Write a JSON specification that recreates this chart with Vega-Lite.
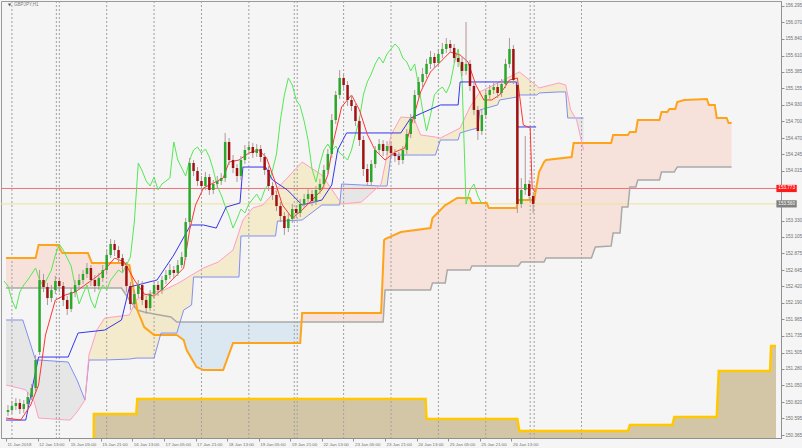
{
"$schema": "https://vega.github.io/schema/vega-lite/v6.json",
"width": 780, "height": 437,
"autosize": {"type": "none"},
"padding": {"left": 1, "top": 1, "right": 21, "bottom": 10},
"background": "#f5f5f5",
"config": {"view": {"stroke": "#9a9a9a", "fill": "#f5f5f5"}, "font": "Liberation Sans"},
"resolve": {"axis": {"x": "independent", "y": "independent"}},
"datasets": {
"one": [{"k": 1}],
"candles": [
{"t":1,"o":150.683,"h":150.780,"l":150.628,"c":150.711},
{"t":3,"o":150.711,"h":150.835,"l":150.656,"c":150.766},
{"t":5,"o":150.766,"h":150.876,"l":150.711,"c":150.808},
{"t":7,"o":150.808,"h":150.863,"l":150.656,"c":150.725},
{"t":9,"o":150.725,"h":150.849,"l":150.670,"c":150.794},
{"t":11,"o":150.794,"h":150.959,"l":150.738,"c":150.890},
{"t":13,"o":150.890,"h":151.070,"l":150.849,"c":151.014},
{"t":15,"o":151.014,"h":151.471,"l":150.959,"c":151.402},
{"t":17,"o":151.512,"h":152.646,"l":151.471,"c":152.508},
{"t":19,"o":152.508,"h":152.591,"l":152.341,"c":152.411},
{"t":21,"o":152.411,"h":152.467,"l":152.162,"c":152.258},
{"t":23,"o":152.258,"h":152.439,"l":152.203,"c":152.369},
{"t":25,"o":152.369,"h":152.563,"l":152.314,"c":152.494},
{"t":27,"o":152.494,"h":152.535,"l":152.341,"c":152.425},
{"t":29,"o":152.425,"h":152.480,"l":152.148,"c":152.231},
{"t":31,"o":152.231,"h":152.286,"l":152.024,"c":152.107},
{"t":33,"o":152.107,"h":152.397,"l":152.065,"c":152.341},
{"t":35,"o":152.341,"h":152.508,"l":152.272,"c":152.439},
{"t":37,"o":152.439,"h":152.591,"l":152.369,"c":152.508},
{"t":39,"o":152.508,"h":152.646,"l":152.453,"c":152.591},
{"t":41,"o":152.591,"h":152.743,"l":152.535,"c":152.674},
{"t":43,"o":152.674,"h":152.715,"l":152.425,"c":152.508},
{"t":45,"o":152.508,"h":152.577,"l":152.341,"c":152.425},
{"t":47,"o":152.425,"h":152.605,"l":152.369,"c":152.535},
{"t":49,"o":152.535,"h":152.715,"l":152.480,"c":152.646},
{"t":51,"o":152.646,"h":152.922,"l":152.591,"c":152.853},
{"t":53,"o":152.853,"h":153.074,"l":152.811,"c":153.005},
{"t":55,"o":153.005,"h":153.060,"l":152.839,"c":152.922},
{"t":57,"o":152.922,"h":152.977,"l":152.743,"c":152.811},
{"t":59,"o":152.811,"h":152.867,"l":152.618,"c":152.701},
{"t":61,"o":152.701,"h":152.756,"l":152.341,"c":152.425},
{"t":63,"o":152.425,"h":152.480,"l":152.093,"c":152.176},
{"t":65,"o":152.176,"h":152.369,"l":152.120,"c":152.314},
{"t":67,"o":152.314,"h":152.508,"l":152.258,"c":152.439},
{"t":69,"o":152.439,"h":152.494,"l":152.162,"c":152.231},
{"t":71,"o":152.231,"h":152.286,"l":152.038,"c":152.120},
{"t":73,"o":152.120,"h":152.369,"l":152.079,"c":152.314},
{"t":75,"o":152.314,"h":152.508,"l":152.258,"c":152.439},
{"t":77,"o":152.439,"h":152.494,"l":152.286,"c":152.369},
{"t":79,"o":152.369,"h":152.563,"l":152.314,"c":152.508},
{"t":81,"o":152.508,"h":152.646,"l":152.453,"c":152.577},
{"t":83,"o":152.577,"h":152.729,"l":152.522,"c":152.646},
{"t":85,"o":152.646,"h":152.701,"l":152.535,"c":152.605},
{"t":87,"o":152.605,"h":152.784,"l":152.563,"c":152.715},
{"t":89,"o":152.715,"h":152.894,"l":152.674,"c":152.825},
{"t":91,"o":152.825,"h":153.364,"l":152.784,"c":153.309},
{"t":93,"o":153.309,"h":154.194,"l":153.254,"c":154.125},
{"t":95,"o":154.125,"h":154.166,"l":153.945,"c":154.014},
{"t":97,"o":154.014,"h":154.069,"l":153.807,"c":153.876},
{"t":99,"o":153.876,"h":153.945,"l":153.724,"c":153.807},
{"t":101,"o":153.807,"h":154.000,"l":153.752,"c":153.931},
{"t":103,"o":153.931,"h":153.973,"l":153.683,"c":153.752},
{"t":105,"o":153.752,"h":153.890,"l":153.696,"c":153.835},
{"t":107,"o":153.835,"h":153.945,"l":153.779,"c":153.876},
{"t":109,"o":153.876,"h":153.986,"l":153.821,"c":153.917},
{"t":111,"o":153.917,"h":154.540,"l":153.862,"c":154.415},
{"t":113,"o":154.415,"h":154.470,"l":154.097,"c":154.166},
{"t":115,"o":154.166,"h":154.235,"l":153.986,"c":154.056},
{"t":117,"o":154.056,"h":154.111,"l":153.862,"c":153.945},
{"t":119,"o":153.945,"h":154.221,"l":153.890,"c":154.166},
{"t":121,"o":154.166,"h":154.374,"l":154.111,"c":154.305},
{"t":123,"o":154.305,"h":154.415,"l":154.263,"c":154.346},
{"t":125,"o":154.346,"h":154.401,"l":154.194,"c":154.263},
{"t":127,"o":154.263,"h":154.387,"l":154.208,"c":154.318},
{"t":129,"o":154.318,"h":154.374,"l":154.138,"c":154.208},
{"t":131,"o":154.208,"h":154.263,"l":153.959,"c":154.028},
{"t":133,"o":154.028,"h":154.083,"l":153.738,"c":153.807},
{"t":135,"o":153.807,"h":153.862,"l":153.613,"c":153.683},
{"t":137,"o":153.683,"h":153.738,"l":153.461,"c":153.530},
{"t":139,"o":153.530,"h":153.585,"l":153.309,"c":153.392},
{"t":141,"o":153.392,"h":153.447,"l":153.129,"c":153.226},
{"t":143,"o":153.226,"h":153.420,"l":153.171,"c":153.351},
{"t":145,"o":153.351,"h":153.558,"l":153.295,"c":153.489},
{"t":147,"o":153.489,"h":153.544,"l":153.364,"c":153.434},
{"t":149,"o":153.434,"h":153.627,"l":153.378,"c":153.558},
{"t":151,"o":153.558,"h":153.696,"l":153.503,"c":153.627},
{"t":153,"o":153.627,"h":153.765,"l":153.572,"c":153.696},
{"t":155,"o":153.696,"h":153.752,"l":153.530,"c":153.599},
{"t":157,"o":153.599,"h":153.807,"l":153.544,"c":153.752},
{"t":159,"o":153.752,"h":153.904,"l":153.696,"c":153.835},
{"t":161,"o":153.835,"h":154.097,"l":153.779,"c":154.028},
{"t":163,"o":154.028,"h":154.318,"l":153.973,"c":154.249},
{"t":165,"o":154.249,"h":154.802,"l":154.194,"c":154.719},
{"t":167,"o":154.719,"h":155.120,"l":154.664,"c":155.065},
{"t":169,"o":155.065,"h":155.410,"l":155.010,"c":155.300},
{"t":171,"o":155.300,"h":155.369,"l":155.134,"c":155.203},
{"t":173,"o":155.203,"h":155.258,"l":154.913,"c":154.996},
{"t":175,"o":154.996,"h":155.065,"l":154.843,"c":154.913},
{"t":177,"o":154.913,"h":154.968,"l":154.636,"c":154.705},
{"t":179,"o":154.705,"h":154.760,"l":154.360,"c":154.443},
{"t":181,"o":154.443,"h":154.498,"l":153.945,"c":154.042},
{"t":183,"o":154.042,"h":154.111,"l":153.807,"c":153.862},
{"t":185,"o":153.862,"h":154.166,"l":153.807,"c":154.111},
{"t":187,"o":154.111,"h":154.360,"l":154.056,"c":154.305},
{"t":189,"o":154.305,"h":154.456,"l":154.249,"c":154.387},
{"t":191,"o":154.387,"h":154.443,"l":154.221,"c":154.291},
{"t":193,"o":154.291,"h":154.429,"l":154.235,"c":154.360},
{"t":195,"o":154.360,"h":154.415,"l":154.194,"c":154.263},
{"t":197,"o":154.263,"h":154.318,"l":154.138,"c":154.221},
{"t":199,"o":154.221,"h":154.277,"l":154.097,"c":154.166},
{"t":201,"o":154.166,"h":154.360,"l":154.111,"c":154.305},
{"t":203,"o":154.305,"h":154.595,"l":154.249,"c":154.526},
{"t":205,"o":154.526,"h":154.802,"l":154.470,"c":154.733},
{"t":207,"o":154.733,"h":155.134,"l":154.677,"c":155.065},
{"t":209,"o":155.065,"h":155.314,"l":155.010,"c":155.245},
{"t":211,"o":155.245,"h":155.438,"l":155.175,"c":155.355},
{"t":213,"o":155.355,"h":155.563,"l":155.300,"c":155.494},
{"t":215,"o":155.494,"h":155.673,"l":155.424,"c":155.590},
{"t":217,"o":155.590,"h":155.645,"l":155.438,"c":155.507},
{"t":219,"o":155.507,"h":155.701,"l":155.452,"c":155.632},
{"t":221,"o":155.632,"h":155.784,"l":155.576,"c":155.701},
{"t":223,"o":155.701,"h":155.853,"l":155.645,"c":155.770},
{"t":225,"o":155.770,"h":155.825,"l":155.645,"c":155.715},
{"t":227,"o":155.715,"h":155.770,"l":155.507,"c":155.576},
{"t":229,"o":155.576,"h":155.645,"l":155.452,"c":155.521},
{"t":231,"o":155.521,"h":155.590,"l":155.328,"c":155.397},
{"t":233,"o":155.397,"h":156.074,"l":155.342,"c":155.494},
{"t":235,"o":155.494,"h":155.549,"l":155.120,"c":155.189},
{"t":237,"o":155.189,"h":155.245,"l":154.788,"c":154.858},
{"t":239,"o":154.858,"h":154.913,"l":154.443,"c":154.567},
{"t":241,"o":154.567,"h":154.858,"l":154.512,"c":154.788},
{"t":243,"o":154.788,"h":155.134,"l":154.733,"c":155.065},
{"t":245,"o":155.065,"h":155.203,"l":155.010,"c":155.134},
{"t":247,"o":155.134,"h":155.245,"l":155.079,"c":155.175},
{"t":249,"o":155.175,"h":155.231,"l":155.024,"c":155.093},
{"t":251,"o":155.093,"h":155.286,"l":155.038,"c":155.217},
{"t":253,"o":155.217,"h":155.563,"l":155.162,"c":155.494},
{"t":255,"o":155.494,"h":155.853,"l":155.438,"c":155.701},
{"t":257,"o":155.701,"h":155.756,"l":155.217,"c":155.272},
{"t":259,"o":155.203,"h":155.272,"l":153.434,"c":153.558},
{"t":261,"o":153.558,"h":153.917,"l":153.503,"c":153.752},
{"t":263,"o":153.752,"h":154.498,"l":153.683,"c":153.835},
{"t":265,"o":153.835,"h":153.890,"l":153.613,"c":153.669},
{"t":267,"o":153.669,"h":153.724,"l":153.434,"c":153.560}
],
"chikou": [
{"t":-1,"v":152.494},{"t":1,"v":152.425},{"t":3,"v":152.231},{"t":5,"v":152.107},{"t":7,"v":152.341},{"t":9,"v":152.439},{"t":11,"v":152.508},{"t":13,"v":152.591},{"t":15,"v":152.674},{"t":17,"v":152.508},{"t":19,"v":152.425},{"t":21,"v":152.535},{"t":23,"v":152.646},{"t":25,"v":152.853},{"t":27,"v":153.005},{"t":29,"v":152.922},{"t":31,"v":152.811},{"t":33,"v":152.701},{"t":35,"v":152.425},{"t":37,"v":152.176},{"t":39,"v":152.314},{"t":41,"v":152.439},{"t":43,"v":152.231},{"t":45,"v":152.120},{"t":47,"v":152.314},{"t":49,"v":152.439},{"t":51,"v":152.369},{"t":53,"v":152.508},{"t":55,"v":152.577},{"t":57,"v":152.646},{"t":59,"v":152.605},{"t":61,"v":152.715},{"t":63,"v":152.825},{"t":65,"v":153.309},{"t":67,"v":154.125},{"t":69,"v":154.014},{"t":71,"v":153.876},{"t":73,"v":153.807},{"t":75,"v":153.931},{"t":77,"v":153.752},{"t":79,"v":153.835},{"t":81,"v":153.876},{"t":83,"v":153.917},{"t":85,"v":154.415},{"t":87,"v":154.166},{"t":89,"v":154.056},{"t":91,"v":153.945},{"t":93,"v":154.166},{"t":95,"v":154.305},{"t":97,"v":154.346},{"t":99,"v":154.263},{"t":101,"v":154.318},{"t":103,"v":154.208},{"t":105,"v":154.028},{"t":107,"v":153.807},{"t":109,"v":153.683},{"t":111,"v":153.530},{"t":113,"v":153.392},{"t":115,"v":153.226},{"t":117,"v":153.351},{"t":119,"v":153.489},{"t":121,"v":153.434},{"t":123,"v":153.558},{"t":125,"v":153.627},{"t":127,"v":153.696},{"t":129,"v":153.599},{"t":131,"v":153.752},{"t":133,"v":153.835},{"t":135,"v":154.028},{"t":137,"v":154.249},{"t":139,"v":154.719},{"t":141,"v":155.065},{"t":143,"v":155.300},{"t":145,"v":155.203},{"t":147,"v":154.996},{"t":149,"v":154.913},{"t":151,"v":154.705},{"t":153,"v":154.443},{"t":155,"v":154.042},{"t":157,"v":153.862},{"t":159,"v":154.111},{"t":161,"v":154.305},{"t":163,"v":154.387},{"t":165,"v":154.291},{"t":167,"v":154.360},{"t":169,"v":154.263},{"t":171,"v":154.221},{"t":173,"v":154.166},{"t":175,"v":154.305},{"t":177,"v":154.526},{"t":179,"v":154.733},{"t":181,"v":155.065},{"t":183,"v":155.245},{"t":185,"v":155.355},{"t":187,"v":155.494},{"t":189,"v":155.590},{"t":191,"v":155.507},{"t":193,"v":155.632},{"t":195,"v":155.701},{"t":197,"v":155.770},{"t":199,"v":155.715},{"t":201,"v":155.576},{"t":203,"v":155.521},{"t":205,"v":155.397},{"t":207,"v":155.494},{"t":209,"v":155.189},{"t":211,"v":154.858},{"t":213,"v":154.567},{"t":215,"v":154.788},{"t":217,"v":155.065},{"t":219,"v":155.134},{"t":221,"v":155.175},{"t":223,"v":155.093},{"t":225,"v":155.217},{"t":227,"v":155.494},{"t":229,"v":155.701},{"t":231,"v":155.272},{"t":233,"v":153.558},{"t":235,"v":153.752},{"t":237,"v":153.835},{"t":239,"v":153.669},{"t":241,"v":153.560}
],
"tenkan": [
{"t":0,"v":150.600},{"t":7.5,"v":150.572},{"t":12.5,"v":150.780},{"t":16.5,"v":151.056},{"t":20,"v":151.747},{"t":25,"v":152.231},{"t":30,"v":152.300},{"t":35,"v":152.341},{"t":40,"v":152.439},{"t":45,"v":152.535},{"t":50,"v":152.646},{"t":55,"v":152.811},{"t":60,"v":152.756},{"t":65,"v":152.508},{"t":70,"v":152.314},{"t":75,"v":152.286},{"t":80,"v":152.397},{"t":85,"v":152.535},{"t":90,"v":152.674},{"t":93,"v":153.199},{"t":96,"v":153.544},{"t":100,"v":153.779},{"t":105,"v":153.848},{"t":110,"v":153.917},{"t":113,"v":154.138},{"t":118,"v":154.166},{"t":123,"v":154.263},{"t":128,"v":154.305},{"t":132,"v":154.194},{"t":136,"v":153.890},{"t":140,"v":153.544},{"t":145,"v":153.364},{"t":150,"v":153.475},{"t":155,"v":153.613},{"t":160,"v":153.752},{"t":163,"v":153.959},{"t":166,"v":154.443},{"t":170,"v":154.900},{"t":175,"v":155.065},{"t":179,"v":154.860},{"t":183,"v":154.520},{"t":187,"v":154.300},{"t":192,"v":154.166},{"t":197,"v":154.277},{"t":202,"v":154.332},{"t":206,"v":154.719},{"t":210,"v":155.107},{"t":215,"v":155.383},{"t":220,"v":155.521},{"t":225,"v":155.659},{"t":230,"v":155.618},{"t":234,"v":155.521},{"t":238,"v":155.203},{"t":242,"v":154.996},{"t":246,"v":154.996},{"t":250,"v":155.065},{"t":255,"v":155.272},{"t":259,"v":155.300},{"t":262,"v":154.650},{"t":265.5,"v":154.609},{"t":266.5,"v":153.779},{"t":268,"v":153.724}
],
"kijun": [
{"t":0,"v":150.572},{"t":10,"v":150.572},{"t":16.5,"v":151.443},{"t":31.5,"v":151.443},{"t":36.5,"v":151.775},{"t":50,"v":151.816},{"t":58.5,"v":151.955},{"t":62.5,"v":152.411},{"t":76.5,"v":152.508},{"t":85,"v":152.853},{"t":93.5,"v":153.268},{"t":100,"v":153.268},{"t":106.5,"v":153.226},{"t":111.5,"v":153.516},{"t":118.5,"v":153.572},{"t":120,"v":154.069},{"t":131.5,"v":154.069},{"t":135,"v":153.890},{"t":142.5,"v":153.752},{"t":150,"v":153.544},{"t":160,"v":153.613},{"t":165,"v":153.821},{"t":168,"v":154.305},{"t":172.5,"v":154.540},{"t":200,"v":154.540},{"t":205,"v":154.747},{"t":220,"v":154.927},{"t":229,"v":154.927},{"t":230,"v":155.245},{"t":258.5,"v":155.245},{"t":259,"v":154.623},{"t":268.5,"v":154.623}
],
"sc": [
{"t":0,"a":151.056,"b":151.955,"g":"S1"},{"t":8.5,"a":151.001,"b":151.955,"g":"S1"},{"t":10,"a":150.987,"b":151.830,"g":"S1"},{"t":14,"a":150.849,"b":151.485,"g":"S1"},{"t":15,"a":150.752,"b":151.402,"g":"S1"},{"t":16.5,"a":150.600,"b":151.402,"g":"S1"},{"t":31.5,"a":150.572,"b":151.374,"g":"S1"},{"t":32.5,"a":150.572,"b":151.319,"g":"S1"},{"t":36,"a":150.683,"b":151.125,"g":"S1"},{"t":40,"a":150.849,"b":150.849,"g":"S1"},
{"t":40,"a":150.849,"b":150.849,"g":"S2"},{"t":42,"a":151.471,"b":151.402,"g":"S2"},{"t":46,"a":151.816,"b":151.402,"g":"S2"},{"t":50,"a":151.982,"b":151.402,"g":"S2"},{"t":62.5,"a":152.024,"b":151.415,"g":"S2"},{"t":66,"a":152.231,"b":151.429,"g":"S2"},{"t":70,"a":152.300,"b":151.429,"g":"S2"},{"t":75,"a":152.341,"b":151.429,"g":"S2"},{"t":78.5,"a":152.355,"b":151.775,"g":"S2"},{"t":80,"a":152.369,"b":151.775,"g":"S2"},{"t":86.5,"a":152.453,"b":151.775,"g":"S2"},{"t":90,"a":152.508,"b":152.093,"g":"S2"},{"t":94,"a":152.577,"b":152.162,"g":"S2"},{"t":95,"a":152.591,"b":152.549,"g":"S2"},{"t":100,"a":152.674,"b":152.549,"g":"S2"},{"t":107.5,"a":152.756,"b":152.549,"g":"S2"},{"t":115,"a":152.922,"b":152.549,"g":"S2"},{"t":118,"a":153.171,"b":152.549,"g":"S2"},{"t":119,"a":153.254,"b":153.116,"g":"S2"},{"t":120,"a":153.337,"b":153.116,"g":"S2"},{"t":125,"a":153.503,"b":153.116,"g":"S2"},{"t":130,"a":153.544,"b":153.116,"g":"S2"},{"t":136.5,"a":153.738,"b":153.116,"g":"S2"},{"t":137.5,"a":153.779,"b":153.323,"g":"S2"},{"t":140,"a":153.848,"b":153.323,"g":"S2"},{"t":150,"a":154.138,"b":153.337,"g":"S2"},{"t":160,"a":153.959,"b":153.544,"g":"S2"},{"t":169,"a":153.599,"b":153.544,"g":"S2"},{"t":169.15,"a":153.589,"b":153.589,"g":"S2"},
{"t":169.15,"a":153.589,"b":153.589,"g":"S3"},{"t":170,"a":153.558,"b":153.835,"g":"S3"},{"t":180,"a":153.585,"b":153.821,"g":"S3"},{"t":189,"a":153.807,"b":153.807,"g":"S3"},
{"t":189,"a":153.807,"b":153.807,"g":"S4"},{"t":190,"a":153.835,"b":153.807,"g":"S4"},{"t":193,"a":154.235,"b":153.807,"g":"S4"},{"t":195,"a":154.512,"b":154.235,"g":"S4"},{"t":200,"a":154.760,"b":154.235,"g":"S4"},{"t":206.5,"a":154.747,"b":154.235,"g":"S4"},{"t":210,"a":154.512,"b":154.235,"g":"S4"},{"t":217.5,"a":154.484,"b":154.235,"g":"S4"},{"t":220,"a":154.470,"b":154.443,"g":"S4"},{"t":229,"a":154.594,"b":154.443,"g":"S4"},{"t":230,"a":154.608,"b":154.540,"g":"S4"},{"t":235,"a":154.899,"b":154.581,"g":"S4"},{"t":239,"a":155.065,"b":154.608,"g":"S4"},{"t":240,"a":155.107,"b":154.858,"g":"S4"},{"t":249,"a":155.231,"b":154.927,"g":"S4"},{"t":250,"a":155.245,"b":154.996,"g":"S4"},{"t":259,"a":155.369,"b":155.038,"g":"S4"},{"t":260,"a":155.383,"b":155.065,"g":"S4"},{"t":269,"a":155.189,"b":155.065,"g":"S4"},{"t":270,"a":155.162,"b":155.093,"g":"S4"},{"t":280,"a":155.231,"b":155.107,"g":"S4"},{"t":283.5,"a":155.203,"b":155.107,"g":"S4"},{"t":284.5,"a":155.065,"b":154.747,"g":"S4"},{"t":286,"a":154.858,"b":154.747,"g":"S4"},{"t":288.4,"a":154.747,"b":154.747,"g":"S4"},
{"t":288.4,"a":154.747,"b":154.747,"g":"S5"},{"t":289,"a":154.719,"b":154.747,"g":"S5"},{"t":292.5,"a":154.305,"b":154.747,"g":"S5"}
],
"lc": [
{"t":0,"a":152.811,"b":152.397,"g":"L1"},{"t":15,"a":152.811,"b":152.397,"g":"L1"},{"t":16.5,"a":152.991,"b":152.397,"g":"L1"},{"t":26.5,"a":152.991,"b":152.397,"g":"L1"},{"t":28.5,"a":152.880,"b":152.397,"g":"L1"},{"t":41.5,"a":152.880,"b":152.397,"g":"L1"},{"t":43.5,"a":152.743,"b":152.397,"g":"L1"},{"t":58.5,"a":152.743,"b":152.397,"g":"L1"},{"t":62.5,"a":152.715,"b":152.231,"g":"L1"},{"t":66.5,"a":152.093,"b":152.093,"g":"L1"},
{"t":66.5,"a":152.093,"b":152.093,"g":"L2"},{"t":70,"a":151.858,"b":152.065,"g":"L2"},{"t":75,"a":151.747,"b":152.038,"g":"L2"},{"t":83.5,"a":151.747,"b":151.996,"g":"L2"},{"t":86.5,"a":151.747,"b":151.927,"g":"L2"},{"t":90,"a":151.678,"b":151.927,"g":"L2"},{"t":91.5,"a":151.540,"b":151.927,"g":"L2"},{"t":96.5,"a":151.305,"b":151.927,"g":"L2"},{"t":100,"a":151.263,"b":151.927,"g":"L2"},{"t":110,"a":151.263,"b":151.927,"g":"L2"},{"t":115,"a":151.637,"b":151.927,"g":"L2"},{"t":149,"a":151.637,"b":151.927,"g":"L2"},{"t":149.7,"a":151.927,"b":151.927,"g":"L2"},
{"t":149.7,"a":151.927,"b":151.927,"g":"L3"},{"t":150,"a":152.052,"b":151.927,"g":"L3"},{"t":190,"a":152.052,"b":151.927,"g":"L3"},{"t":191,"a":152.715,"b":151.927,"g":"L3"},{"t":191.5,"a":153.060,"b":152.148,"g":"L3"},{"t":192,"a":153.074,"b":152.369,"g":"L3"},{"t":200,"a":153.171,"b":152.369,"g":"L3"},{"t":215,"a":153.226,"b":152.369,"g":"L3"},{"t":216,"a":153.364,"b":152.467,"g":"L3"},{"t":222.5,"a":153.544,"b":152.467,"g":"L3"},{"t":223.5,"a":153.558,"b":152.646,"g":"L3"},{"t":228.5,"a":153.641,"b":152.646,"g":"L3"},{"t":235,"a":153.641,"b":152.646,"g":"L3"},{"t":236,"a":153.572,"b":152.701,"g":"L3"},{"t":243.5,"a":153.572,"b":152.701,"g":"L3"},{"t":244.5,"a":153.503,"b":152.701,"g":"L3"},{"t":258.5,"a":153.503,"b":152.701,"g":"L3"},{"t":259.5,"a":153.613,"b":152.701,"g":"L3"},{"t":261,"a":153.613,"b":152.756,"g":"L3"},{"t":267.5,"a":153.613,"b":152.756,"g":"L3"},{"t":270,"a":154.000,"b":152.756,"g":"L3"},{"t":272.5,"a":154.138,"b":152.756,"g":"L3"},{"t":273.5,"a":154.166,"b":152.811,"g":"L3"},{"t":286.5,"a":154.208,"b":152.811,"g":"L3"},{"t":287.5,"a":154.401,"b":152.811,"g":"L3"},{"t":296.5,"a":154.401,"b":152.811,"g":"L3"},{"t":298.5,"a":154.401,"b":152.963,"g":"L3"},{"t":306.5,"a":154.401,"b":152.977,"g":"L3"},{"t":307.5,"a":154.512,"b":153.157,"g":"L3"},{"t":311,"a":154.512,"b":153.157,"g":"L3"},{"t":312,"a":154.512,"b":153.516,"g":"L3"},{"t":315,"a":154.512,"b":153.516,"g":"L3"},{"t":316,"a":154.553,"b":153.793,"g":"L3"},{"t":319,"a":154.553,"b":153.793,"g":"L3"},{"t":320,"a":154.719,"b":153.890,"g":"L3"},{"t":331,"a":154.719,"b":153.890,"g":"L3"},{"t":332,"a":154.830,"b":154.000,"g":"L3"},{"t":335,"a":154.830,"b":154.000,"g":"L3"},{"t":336,"a":154.871,"b":154.000,"g":"L3"},{"t":338.5,"a":154.871,"b":154.000,"g":"L3"},{"t":339,"a":154.871,"b":154.028,"g":"L3"},{"t":340,"a":154.968,"b":154.069,"g":"L3"},{"t":343.5,"a":154.996,"b":154.069,"g":"L3"},{"t":355,"a":155.010,"b":154.069,"g":"L3"},{"t":356,"a":154.927,"b":154.069,"g":"L3"},{"t":359,"a":154.927,"b":154.069,"g":"L3"},{"t":360,"a":154.747,"b":154.069,"g":"L3"},{"t":365,"a":154.747,"b":154.069,"g":"L3"},{"t":366,"a":154.677,"b":154.069,"g":"L3"},{"t":367.5,"a":154.677,"b":154.069,"g":"L3"}
],
"bot": [
{"t":44.45,"v":150.20},{"t":44.5,"v":150.656},{"t":66,"v":150.656},{"t":66.5,"v":150.863},{"t":212.5,"v":150.863},{"t":213,"v":150.586},{"t":259,"v":150.586},{"t":260,"v":150.420},{"t":315,"v":150.420},{"t":316,"v":150.503},{"t":337.5,"v":150.503},{"t":338.5,"v":150.614},{"t":360,"v":150.614},{"t":361,"v":151.250},{"t":387,"v":151.250},{"t":387.5,"v":151.595},{"t":390,"v":151.595}
],
"sep": [
{"t":3},{"t":25.5},{"t":27},{"t":51},{"t":75},{"t":99},{"t":123},{"t":146},{"t":147.5},{"t":171},{"t":195},{"t":219},{"t":243},{"t":265.5},{"t":267.5},{"t":291.5}
]
},
"layer": [
{"data": {"name": "lc"}, "mark": {"type": "area", "clip": true},
 "encoding": {
  "x": {"field": "t", "type": "quantitative", "scale": {"domain": [0, 390], "nice": false, "zero": false},
        "axis": {"orient": "bottom", "values": [0,16,32,48,64,80,96,112,128,144,160,176,192,208,224,240,256], "labelExpr": "datum.value < 8 ? '11 Jan 2018' : datum.value < 24 ? '12 Jan 13:00' : datum.value < 40 ? '15 Jan 05:00' : datum.value < 56 ? '15 Jan 21:00' : datum.value < 72 ? '16 Jan 13:00' : datum.value < 88 ? '17 Jan 05:00' : datum.value < 104 ? '17 Jan 21:00' : datum.value < 120 ? '18 Jan 13:00' : datum.value < 136 ? '19 Jan 05:00' : datum.value < 152 ? '19 Jan 21:00' : datum.value < 168 ? '22 Jan 13:00' : datum.value < 184 ? '23 Jan 05:00' : datum.value < 200 ? '23 Jan 21:00' : datum.value < 216 ? '24 Jan 13:00' : datum.value < 232 ? '25 Jan 05:00' : datum.value < 248 ? '25 Jan 21:00' : '26 Jan 13:00'", "labelAlign": "left", "labelBaseline": "top", "labelPadding": 1, "labelOffset": 1, "labelFont": "Liberation Sans", "labelFontSize": 4.4, "labelColor": "#707070", "tickSize": 3, "tickColor": "#909090", "domainColor": "#909090", "grid": false, "title": null, "labelOverlap": false, "labelFlush": false, "labelBound": false}},
  "y": {"field": "a", "type": "quantitative", "scale": {"domain": [150.324, 156.364], "nice": false, "zero": false},
        "axis": {"orient": "right", "values": [150.365,150.595,150.82,151.05,151.28,151.505,151.735,151.965,152.19,152.42,152.645,152.875,153.105,153.33,154.015,154.245,154.47,154.7,154.93,155.155,155.385,155.61,155.84,156.07,156.295], "format": ".3f", "labelFont": "Liberation Sans", "labelFontSize": 4.6, "labelColor": "#707070", "tickSize": 3, "tickColor": "#909090", "domainColor": "#909090", "grid": false, "title": null, "labelPadding": 1, "labelOverlap": false, "labelBound": false, "labelFlush": false}},
  "y2": {"field": "b"},
  "detail": {"field": "g"},
  "color": {"condition": {"test": "datum.g === 'L2'", "value": "#dce8f1"}, "value": "#f6e2da"}
 }},
{"data": {"name": "sc"}, "mark": {"type": "area", "clip": true, "opacity": 0.9},
 "encoding": {
  "x": {"field": "t", "type": "quantitative", "scale": {"domain": [0, 390], "nice": false, "zero": false}, "axis": null},
  "y": {"field": "a", "type": "quantitative", "scale": {"domain": [150.324, 156.364], "nice": false, "zero": false}, "axis": null},
  "y2": {"field": "b"},
  "detail": {"field": "g"},
  "color": {"condition": {"test": "datum.g === 'S2' || datum.g === 'S4'", "value": "#f4e9c8"}, "value": "#e4e4e4"}
 }},
{"data": {"name": "bot"}, "mark": {"type": "area", "clip": true, "color": "#d3c6a6"},
 "encoding": {
  "x": {"field": "t", "type": "quantitative", "scale": {"domain": [0, 390], "nice": false, "zero": false}, "axis": null},
  "y": {"field": "v", "type": "quantitative", "scale": {"domain": [150.324, 156.364], "nice": false, "zero": false}, "axis": null},
  "y2": {"datum": 150.0}
 }},
{"data": {"name": "sep"}, "mark": {"type": "rule", "color": "#a0a0a0", "strokeDash": [2, 2], "strokeWidth": 1},
 "encoding": {
  "x": {"field": "t", "type": "quantitative", "scale": {"domain": [0, 390], "nice": false, "zero": false}, "axis": null}
 }},
{"data": {"name": "one"}, "mark": {"type": "rule", "color": "#ee7070", "strokeWidth": 1},
 "encoding": {"y": {"datum": 153.773, "type": "quantitative", "scale": {"domain": [150.324, 156.364], "nice": false, "zero": false}, "axis": null}}},
{"data": {"name": "one"}, "mark": {"type": "rule", "color": "#efe29a", "strokeWidth": 1},
 "encoding": {"y": {"datum": 153.56, "type": "quantitative", "scale": {"domain": [150.324, 156.364], "nice": false, "zero": false}, "axis": null}}},
{"data": {"name": "lc"}, "mark": {"type": "line", "clip": true, "color": "#a9a9a9", "strokeWidth": 1.5},
 "encoding": {
  "x": {"field": "t", "type": "quantitative", "scale": {"domain": [0, 390], "nice": false, "zero": false}, "axis": null},
  "y": {"field": "b", "type": "quantitative", "scale": {"domain": [150.324, 156.364], "nice": false, "zero": false}, "axis": null}
 }},
{"data": {"name": "lc"}, "mark": {"type": "line", "clip": true, "color": "#ffa31a", "strokeWidth": 2},
 "encoding": {
  "x": {"field": "t", "type": "quantitative", "scale": {"domain": [0, 390], "nice": false, "zero": false}, "axis": null},
  "y": {"field": "a", "type": "quantitative", "scale": {"domain": [150.324, 156.364], "nice": false, "zero": false}, "axis": null}
 }},
{"data": {"name": "sc"}, "mark": {"type": "line", "clip": true, "color": "#8190ee", "strokeWidth": 1},
 "encoding": {
  "x": {"field": "t", "type": "quantitative", "scale": {"domain": [0, 390], "nice": false, "zero": false}, "axis": null},
  "y": {"field": "b", "type": "quantitative", "scale": {"domain": [150.324, 156.364], "nice": false, "zero": false}, "axis": null}
 }},
{"data": {"name": "sc"}, "mark": {"type": "line", "clip": true, "color": "#ff9fc6", "strokeWidth": 1},
 "encoding": {
  "x": {"field": "t", "type": "quantitative", "scale": {"domain": [0, 390], "nice": false, "zero": false}, "axis": null},
  "y": {"field": "a", "type": "quantitative", "scale": {"domain": [150.324, 156.364], "nice": false, "zero": false}, "axis": null}
 }},
{"data": {"name": "bot"}, "mark": {"type": "line", "clip": true, "color": "#ffc800", "strokeWidth": 2.5},
 "encoding": {
  "x": {"field": "t", "type": "quantitative", "scale": {"domain": [0, 390], "nice": false, "zero": false}, "axis": null},
  "y": {"field": "v", "type": "quantitative", "scale": {"domain": [150.324, 156.364], "nice": false, "zero": false}, "axis": null}
 }},
{"data": {"name": "chikou"}, "mark": {"type": "line", "clip": true, "color": "#55e855", "strokeWidth": 1},
 "encoding": {
  "x": {"field": "t", "type": "quantitative", "scale": {"domain": [0, 390], "nice": false, "zero": false}, "axis": null},
  "y": {"field": "v", "type": "quantitative", "scale": {"domain": [150.324, 156.364], "nice": false, "zero": false}, "axis": null}
 }},
{"data": {"name": "kijun"}, "mark": {"type": "line", "clip": true, "color": "#3535f0", "strokeWidth": 1},
 "encoding": {
  "x": {"field": "t", "type": "quantitative", "scale": {"domain": [0, 390], "nice": false, "zero": false}, "axis": null},
  "y": {"field": "v", "type": "quantitative", "scale": {"domain": [150.324, 156.364], "nice": false, "zero": false}, "axis": null}
 }},
{"data": {"name": "tenkan"}, "mark": {"type": "line", "clip": true, "color": "#ff3535", "strokeWidth": 1},
 "encoding": {
  "x": {"field": "t", "type": "quantitative", "scale": {"domain": [0, 390], "nice": false, "zero": false}, "axis": null},
  "y": {"field": "v", "type": "quantitative", "scale": {"domain": [150.324, 156.364], "nice": false, "zero": false}, "axis": null}
 }},
{"data": {"name": "candles"}, "mark": {"type": "rule", "color": "#b09898", "strokeWidth": 1},
 "encoding": {
  "x": {"field": "t", "type": "quantitative", "scale": {"domain": [0, 390], "nice": false, "zero": false}, "axis": null},
  "y": {"field": "l", "type": "quantitative", "scale": {"domain": [150.324, 156.364], "nice": false, "zero": false}, "axis": null},
  "y2": {"field": "h"}
 }},
{"data": {"name": "candles"}, "mark": {"type": "bar", "size": 2.5},
 "encoding": {
  "x": {"field": "t", "type": "quantitative", "scale": {"domain": [0, 390], "nice": false, "zero": false}, "axis": null},
  "y": {"field": "o", "type": "quantitative", "scale": {"domain": [150.324, 156.364], "nice": false, "zero": false}, "axis": null},
  "y2": {"field": "c"},
  "color": {"condition": {"test": "datum.c >= datum.o", "value": "#2aa82a"}, "value": "#a01212"}
 }},
{"data": {"name": "one"}, "mark": {"type": "rect", "color": "#ff1a1a"},
 "encoding": {
  "x": {"datum": 390.2, "type": "quantitative", "scale": {"domain": [0, 390], "nice": false, "zero": false}, "axis": null},
  "x2": {"datum": 400.5},
  "y": {"datum": 153.823, "type": "quantitative", "scale": {"domain": [150.324, 156.364], "nice": false, "zero": false}, "axis": null},
  "y2": {"datum": 153.723}
 }},
{"data": {"name": "one"}, "mark": {"type": "text", "color": "white", "fontSize": 4.6, "font": "Liberation Sans", "align": "left", "baseline": "middle"},
 "encoding": {
  "x": {"datum": 391.2, "type": "quantitative", "scale": {"domain": [0, 390], "nice": false, "zero": false}, "axis": null},
  "y": {"datum": 153.773, "type": "quantitative", "scale": {"domain": [150.324, 156.364], "nice": false, "zero": false}, "axis": null},
  "text": {"value": "153.773"}
 }},
{"data": {"name": "one"}, "mark": {"type": "rect", "color": "#808080"},
 "encoding": {
  "x": {"datum": 390.2, "type": "quantitative", "scale": {"domain": [0, 390], "nice": false, "zero": false}, "axis": null},
  "x2": {"datum": 400.5},
  "y": {"datum": 153.61, "type": "quantitative", "scale": {"domain": [150.324, 156.364], "nice": false, "zero": false}, "axis": null},
  "y2": {"datum": 153.51}
 }},
{"data": {"name": "one"}, "mark": {"type": "text", "color": "white", "fontSize": 4.6, "font": "Liberation Sans", "align": "left", "baseline": "middle"},
 "encoding": {
  "x": {"datum": 391.2, "type": "quantitative", "scale": {"domain": [0, 390], "nice": false, "zero": false}, "axis": null},
  "y": {"datum": 153.56, "type": "quantitative", "scale": {"domain": [150.324, 156.364], "nice": false, "zero": false}, "axis": null},
  "text": {"value": "153.560"}
 }},
{"data": {"name": "one"}, "mark": {"type": "text", "color": "#555555", "fontSize": 4, "font": "DejaVu Sans", "align": "left", "baseline": "middle"},
 "encoding": {
  "x": {"datum": 1, "type": "quantitative", "scale": {"domain": [0, 390], "nice": false, "zero": false}, "axis": null},
  "y": {"datum": 156.31, "type": "quantitative", "scale": {"domain": [150.324, 156.364], "nice": false, "zero": false}, "axis": null},
  "text": {"value": "▼"}
 }},
{"data": {"name": "one"}, "mark": {"type": "text", "color": "#808080", "fontSize": 4.6, "font": "Liberation Sans", "align": "left", "baseline": "middle"},
 "encoding": {
  "x": {"datum": 4, "type": "quantitative", "scale": {"domain": [0, 390], "nice": false, "zero": false}, "axis": null},
  "y": {"datum": 156.31, "type": "quantitative", "scale": {"domain": [150.324, 156.364], "nice": false, "zero": false}, "axis": null},
  "text": {"value": "GBPJPY,H1"}
 }}
]
}
